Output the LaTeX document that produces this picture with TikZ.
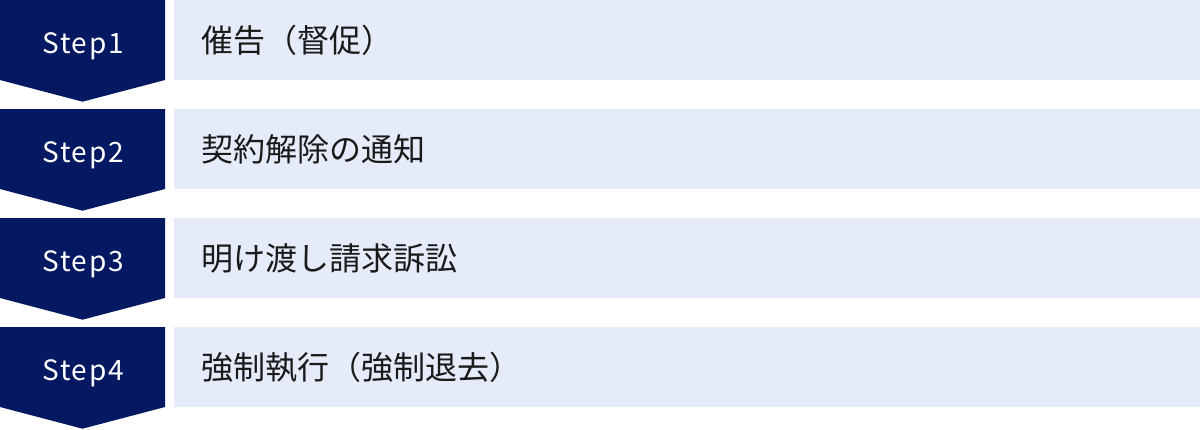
\documentclass[tikz,border=0pt]{standalone}
\usepackage{fontspec}
\setmainfont{Noto Sans CJK JP}
\definecolor{navy}{RGB}{5,24,98}
\definecolor{pale}{RGB}{229,235,248}
\definecolor{ink}{RGB}{26,26,26}
\tikzset{
  steplabel/.style={text=white, anchor=base, inner sep=0pt, font=\fontsize{28}{30}\selectfont\addfontfeatures{LetterSpace=6}},
  itemlabel/.style={text=ink, anchor=west, inner sep=0pt, font=\fontsize{32}{36}\selectfont},
}
\begin{document}
\begin{tikzpicture}[x=1pt,y=-1pt] %4
            \useasboundingbox (0,0) rectangle (1200,429);

            \fill[navy] (0,0) -- (165,0) -- (165,80) -- (82.5,101.7) -- (0,80) -- cycle;
            \fill[navy] (0,109) -- (165,109) -- (165,189) -- (82.5,210.7) -- (0,189) -- cycle;
            \fill[navy] (0,218) -- (165,218) -- (165,298) -- (82.5,319.7) -- (0,298) -- cycle;
            \fill[navy] (0,327) -- (165,327) -- (165,407) -- (82.5,428.7) -- (0,407) -- cycle;

            \fill[pale] (174,0) rectangle (1200,80);
            \fill[pale] (174,109) rectangle (1200,189);
            \fill[pale] (174,218) rectangle (1200,298);
            \fill[pale] (174,327) rectangle (1200,407);

            \node[steplabel] (s1) at (83,53) {Step1};
            \node[steplabel] (s2) at (83,162) {Step2};
            \node[steplabel] (s3) at (83,271) {Step3};
            \node[steplabel] (s4) at (83,380) {Step4};

            \node[itemlabel] (t1) at (201,40) {催告（督促）};
            \node[itemlabel] (t2) at (201,149) {契約解除の通知};
            \node[itemlabel] (t3) at (201,258) {明け渡し請求訴訟};
            \node[itemlabel] (t4) at (201,367) {強制執行（強制退去）};
        \end{tikzpicture}
\end{document}
